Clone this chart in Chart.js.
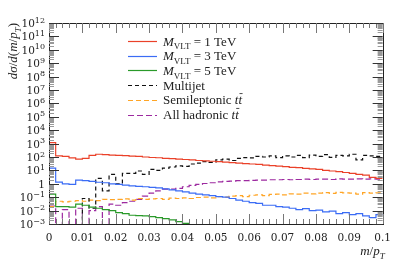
<!DOCTYPE html>
<html>
<head>
<meta charset="utf-8">
<script src="https://cdn.jsdelivr.net/npm/chart.js@4.4.1/dist/chart.umd.min.js"></script>
<style>
  html, body { margin: 0; padding: 0; background: #fff; }
</style>
</head>
<body>
<canvas id="chart" width="399" height="259"></canvas>
<script>
// histogram range: 50 bins of width 0.002 in m/pT
const BIN_LO = 0;
const BIN_HI = 0.1;
const EMPTY = 1e-6; // empty bin, falls below the axis

const SERIES_NAMES = [
  '\\i{M}_{VLT} = 1 TeV',
  '\\i{M}_{VLT} = 3 TeV',
  '\\i{M}_{VLT} = 5 TeV',
  'Multijet',
  'Semileptonic \\i{t}\\b{t}',
  'All hadronic \\i{t}\\b{t}'
];

const vlt1 = [1200, 120, 110, 85, 70, 80, 130, 160, 150, 140,
  130, 125, 117, 110, 100, 92, 88, 80, 75, 70,
  65, 60, 55, 52, 48, 45, 42, 38, 35, 32,
  30, 28, 25, 23, 21, 19, 17, 16, 14, 13,
  12, 10, 9, 8, 7, 6, 5, 4.5, 3, 2.5];

const vlt3 = [15, 1.35, 1.0, 0.9, 1.9, 1.7, 1.5, 1.3, 1.2, 1.0,
  0.9, 0.8, 0.7, 0.65, 0.6, 0.55, 0.5, 0.42, 0.35, 0.3,
  0.25, 0.2, 0.17, 0.15, 0.13, 0.11, 0.1, 0.08, 0.06, 0.05,
  0.04, 0.035, 0.025, 0.025, 0.02, 0.018, 0.015, 0.012, 0.014, 0.01,
  0.011, 0.008, 0.009, 0.006, 0.007, 0.005, 0.006, 0.004, 0.003, 0.005];

const vlt5 = [0.17, 0.02, 0.02, 0.018, 0.03, 0.025, 0.018, 0.015, 0.012, 0.01,
  0.007, 0.006, 0.0045, 0.0042, 0.004, 0.0035, 0.003, 0.0025, 0.002, 0.0015,
  0.0011, 0.0008, 0.0007, 0.0005, 0.0004, 0.0003, 0.0002, 0.0002, 0.0001, 0.0001,
  EMPTY, EMPTY, EMPTY, EMPTY, EMPTY, EMPTY, EMPTY, EMPTY, EMPTY, EMPTY,
  EMPTY, EMPTY, EMPTY, EMPTY, EMPTY, EMPTY, EMPTY, EMPTY, EMPTY, EMPTY];

const multijet = [EMPTY, EMPTY, EMPTY, EMPTY, EMPTY, 0.08, 0.015, 2.5, 0.3, 5,
  1, 6, 6, 9, 5, 12, 10, 15, 18, 22,
  20, 30, 35, 45, 40, 60, 70, 55, 80, 90,
  85, 110, 100, 120, 90, 120, 100, 130, 90, 140,
  110, 150, 95, 130, 120, 160, 60, 130, 120, 110];

const semilep = [0.02, 0.05, 0.045, 0.05, 0.055, 0.05, 0.06, 0.055, 0.07, 0.065,
  0.07, 0.075, 0.06, 0.08, 0.07, 0.075, 0.08, 0.07, 0.085, 0.08,
  0.09, 0.08, 0.095, 0.1, 0.09, 0.11, 0.1, 0.12, 0.13, 0.11,
  0.14, 0.15, 0.13, 0.16, 0.17, 0.15, 0.18, 0.17, 0.2, 0.18,
  0.2, 0.22, 0.19, 0.23, 0.21, 0.2, 0.17, 0.22, 0.2, 0.21];

const allhad = [0.022, EMPTY, 0.012, EMPTY, 0.015, EMPTY, 0.01, 0.02, EMPTY, 0.03,
  0.025, 0.04, 0.05, 0.07, 0.12, 0.2, 0.3, 0.4, 0.4, 0.45,
  0.6, 0.75, 0.9, 1.05, 1.2, 1.4, 1.5, 1.6, 1.7, 1.7,
  1.8, 1.9, 1.9, 2.0, 2.0, 2.1, 2.0, 2.1, 2.2, 2.1,
  2.2, 2.2, 2.1, 2.3, 2.2, 2.2, 2.3, 2.2, 2.3, 2.2];

const X_TICKS = [0, 0.01, 0.02, 0.03, 0.04, 0.05, 0.06, 0.07, 0.08, 0.09, 0.1];
const Y_DECADES = [-3, -2, -1, 0, 1, 2, 3, 4, 5, 6, 7, 8, 9, 10, 11, 12];

const FONT = '"Liberation Serif", "DejaVu Serif", serif';
const NUM_FONT = '"DejaVu Serif", serif';

// bins -> points at left edges, plus closing point at the upper edge
function histPoints(vals) {
  const w = (BIN_HI - BIN_LO) / vals.length;
  const pts = vals.map((v, i) => ({ x: BIN_LO + i * w, y: v }));
  pts.push({ x: BIN_HI, y: vals[vals.length - 1] });
  return pts;
}

function series(label, vals, color, dash) {
  return {
    label,
    data: histPoints(vals),
    borderColor: color,
    borderWidth: 1.2,
    borderDash: dash,
    stepped: true,
    pointRadius: 0,
    fill: false,
    borderJoinStyle: 'miter'
  };
}

// tiny markup: _{sub} ^{sup} \i{italic} \b{italic with bar} \s{italic sub}
function drawRich(ctx, str, x, y, size, align, family) {
  const fam = family || FONT;
  const parts = str.split(/(_\{[^}]*\}|\^\{[^}]*\}|\\[ibs]\{[^}]*\})/).filter(Boolean).map(p => {
    let m;
    if ((m = p.match(/^_\{(.*)\}$/))) return { t: m[1], sub: 1 };
    if ((m = p.match(/^\^\{(.*)\}$/))) return { t: m[1], sup: 1 };
    if ((m = p.match(/^\\i\{(.*)\}$/))) return { t: m[1], it: 1 };
    if ((m = p.match(/^\\b\{(.*)\}$/))) return { t: m[1], it: 1, bar: 1 };
    if ((m = p.match(/^\\s\{(.*)\}$/))) return { t: m[1], it: 1, sub: 1 };
    return { t: p };
  });
  const font = p => `${p.it ? 'italic ' : ''}${(p.sub || p.sup) ? Math.round(size * 0.72) : size}px ${fam}`;
  let w = 0;
  parts.forEach(p => { ctx.font = font(p); p.w = ctx.measureText(p.t).width; w += p.w; });
  let cx = align === 'right' ? x - w : align === 'center' ? x - w / 2 : x;
  ctx.textAlign = 'left';
  ctx.textBaseline = 'alphabetic';
  parts.forEach(p => {
    ctx.font = font(p);
    const dy = p.sub ? size * 0.28 : p.sup ? -size * 0.42 : 0;
    ctx.fillText(p.t, cx, y + dy);
    if (p.bar) ctx.fillRect(cx + 1, y - size * 0.85, p.w - 0.5, 0.8);
    cx += p.w;
  });
  return w;
}

const frame = {
  id: 'frame',
  afterDraw(chart) {
    const { ctx, chartArea: a, scales: { x, y } } = chart;
    ctx.save();

    // box
    ctx.strokeStyle = '#222';
    ctx.lineWidth = 1;
    ctx.strokeRect(Math.round(a.left) + 0.5, Math.round(a.top) + 0.5,
      Math.round(a.right - a.left), Math.round(a.bottom - a.top));

    // inward ticks on x (top and bottom)
    ctx.strokeStyle = '#777';
    for (let i = 0; i <= 50; i++) {
      const px = Math.round(x.getPixelForValue(i * 0.002)) + 0.5;
      const len = i % 5 === 0 ? 10 : 5;
      ctx.beginPath();
      ctx.moveTo(px, a.bottom); ctx.lineTo(px, a.bottom - len);
      ctx.moveTo(px, a.top); ctx.lineTo(px, a.top + len);
      ctx.stroke();
    }

    // inward ticks on y (left and right), log minors
    Y_DECADES.forEach(k => {
      const py = Math.round(y.getPixelForValue(Math.pow(10, k))) + 0.5;
      ctx.strokeStyle = '#333';
      ctx.beginPath();
      ctx.moveTo(a.left, py); ctx.lineTo(a.left + 10, py);
      ctx.moveTo(a.right, py); ctx.lineTo(a.right - 10, py);
      ctx.stroke();
      if (k === 12) return;
      ctx.strokeStyle = '#999';
      for (let m = 2; m <= 9; m++) {
        const pm = Math.round(y.getPixelForValue(m * Math.pow(10, k))) + 0.5;
        ctx.beginPath();
        ctx.moveTo(a.left, pm); ctx.lineTo(a.left + 5, pm);
        ctx.moveTo(a.right, pm); ctx.lineTo(a.right - 5, pm);
        ctx.stroke();
      }
    });

    // y tick labels
    ctx.fillStyle = '#222';
    Y_DECADES.forEach(k => {
      const py = y.getPixelForValue(Math.pow(10, k));
      const txt = k === 0 ? '1' : '10^{' + String(k).replace('-', '\u2212') + '}';
      drawRich(ctx, txt, a.left - 4, py + 4, 10.5, 'right', NUM_FONT);
    });

    // axis titles
    drawRich(ctx, '\\i{m}/\\i{p}\\s{T}', a.right + 2, 255, 13, 'right');
    ctx.save();
    ctx.translate(17, a.top);
    ctx.rotate(-Math.PI / 2);
    drawRich(ctx, '\\i{dσ}/\\i{d}(\\i{m}/\\i{p}\\s{T})', 0, 0, 13, 'right');
    ctx.restore();

    // legend
    chart.data.datasets.forEach((ds, i) => {
      const cy = 41 + i * 14.7;
      ctx.strokeStyle = ds.borderColor;
      ctx.lineWidth = 1.2;
      ctx.setLineDash(ds.borderDash || []);
      ctx.beginPath();
      ctx.moveTo(128, Math.round(cy) + 0.5);
      ctx.lineTo(157, Math.round(cy) + 0.5);
      ctx.stroke();
      ctx.setLineDash([]);
      ctx.fillStyle = '#222';
      drawRich(ctx, ds.label, 163, cy + 4.5, 13, 'left');
    });

    ctx.restore();
  }
};

new Chart(document.getElementById('chart'), {
  type: 'line',
  data: {
    datasets: [
      series(SERIES_NAMES[0], vlt1, '#ea4129', []),
      series(SERIES_NAMES[1], vlt3, '#3b6cf5', []),
      series(SERIES_NAMES[2], vlt5, '#2a9a2a', []),
      series(SERIES_NAMES[3], multijet, '#111', [4, 3]),
      series(SERIES_NAMES[4], semilep, '#ffa526', [5, 3]),
      series(SERIES_NAMES[5], allhad, '#9d2aa0', [6, 3])
    ]
  },
  options: {
    responsive: false,
    animation: false,
    devicePixelRatio: 1,
    layout: { padding: { top: 23, right: 14, left: 0, bottom: 0 } },
    plugins: { legend: { display: false }, tooltip: { enabled: false } },
    scales: {
      x: {
        type: 'linear',
        min: BIN_LO,
        max: BIN_HI,
        grid: { display: false, drawTicks: false },
        border: { display: false },
        afterBuildTicks: s => { s.ticks = X_TICKS.map(v => ({ value: v })); },
        ticks: {
          padding: 8,
          color: '#222',
          font: { family: NUM_FONT, size: 10.5 },
          maxRotation: 0,
          callback: v => v === 0 ? '0' : String(Math.round(v * 100) / 100)
        },
        afterFit: s => { s.height = 35; }
      },
      y: {
        type: 'logarithmic',
        min: 1e-3,
        max: 1e12,
        grid: { display: false, drawTicks: false },
        border: { display: false },
        ticks: { display: false },
        afterFit: s => { s.width = 49; }
      }
    }
  },
  plugins: [frame]
});
</script>
</body>
</html>
